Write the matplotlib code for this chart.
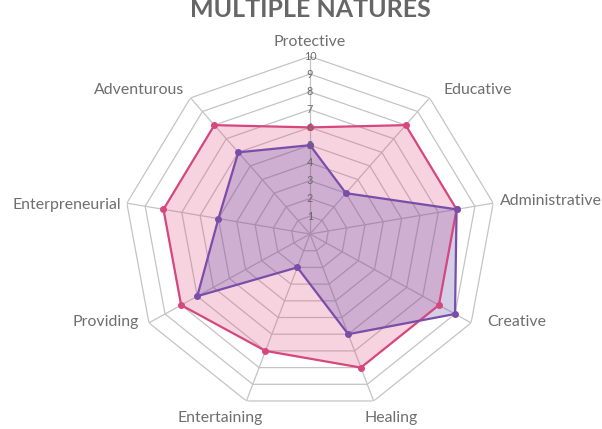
import numpy as np
import matplotlib
matplotlib.use("Agg")
import matplotlib.pyplot as plt

categories = ["Protective", "Educative", "Administrative", "Creative", "Healing",
              "Entertaining", "Providing", "Enterpreneurial", "Adventurous"]
series_pink = [6, 8, 8, 8, 8, 7, 8, 8, 8]
series_purple = [5, 3, 8, 9, 6, 2, 7, 5, 6]
tick_values = [1, 2, 3, 4, 5, 6, 7, 8, 9, 10]
title = "MULTIPLE NATURES"

plt.rcParams['font.family'] = ['Lato', 'DejaVu Sans']

n = len(categories)
angles = np.linspace(0, 2 * np.pi, n, endpoint=False)
ang_closed = np.concatenate([angles, angles[:1]])

fig = plt.figure(figsize=(6.02, 4.29), dpi=100)
ax = fig.add_axes([0.206, 0.0403, 0.618, 0.8284], projection='polar')
ax.set_aspect('auto')
ax.set_theta_zero_location('N')
ax.set_theta_direction(-1)
ax.set_ylim(0, 10)
ax.set_xticks([])
ax.set_yticks([])
ax.grid(False)
ax.spines['polar'].set_visible(False)
ax.patch.set_visible(False)

grid_color = '#c4c4c4'
for r in tick_values:
    ax.plot(ang_closed, [r] * (n + 1), color=grid_color, lw=0.9, zorder=1)
for a in angles:
    ax.plot([a, a], [0, 10], color=grid_color, lw=0.9, zorder=1)

def closed(v):
    return list(v) + [v[0]]

pink = '#d6477d'
purple = '#7a4ea8'
ax.fill(ang_closed, closed(series_pink), color='#e0497f', alpha=0.24, lw=0, zorder=2)
ax.plot(ang_closed, closed(series_pink), color=pink, lw=1.6, zorder=4,
        marker='o', markersize=4)
ax.fill(ang_closed, closed(series_purple), color='#5a46a6', alpha=0.26, lw=0, zorder=3)
ax.plot(ang_closed, closed(series_purple), color=purple, lw=1.6, zorder=5,
        marker='o', markersize=4)

for t in tick_values:
    ax.text(0, t, str(t), ha='center', va='center', fontsize=7.8, color='#6a6a6a', zorder=6)

label_style = [
    ('center', 0, 14),
    ('left', 14, 8),
    ('left', 7, 2),
    ('left', 16, 1),
    ('left', -9, -17),
    ('right', 16, -17),
    ('right', -10, 1),
    ('right', -6, -2),
    ('right', -6, 8),
]
for a, lab, (ha, dx, dy) in zip(angles, categories, label_style):
    ax.annotate(lab, xy=(a, 10), xytext=(dx, dy), textcoords='offset pixels',
                ha=ha, va='center', fontsize=11.4, color='#6e6e6e',
                annotation_clip=False)

fig.text(0.515, 1 - 17 / 429, title, ha='center', va='baseline', fontsize=18,
         fontweight='bold', color='#666666')

fig.savefig('out.png', dpi=100)
